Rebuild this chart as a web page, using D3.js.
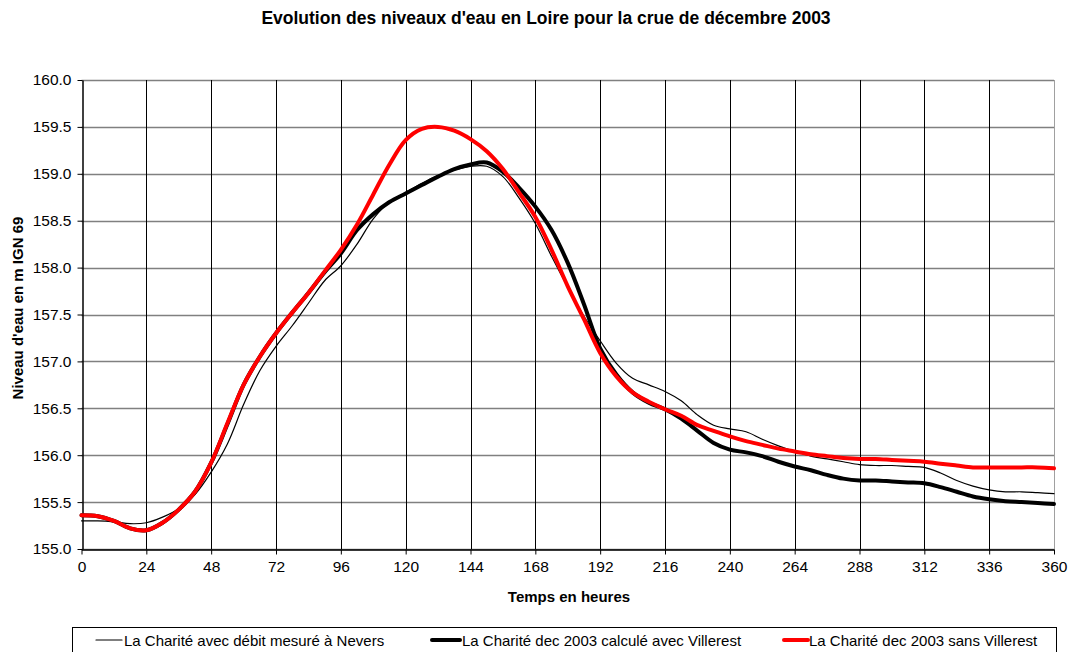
<!DOCTYPE html>
<html lang="fr">
<head>
  <meta charset="UTF-8">
  <title>Evolution des niveaux d'eau en Loire</title>
  <script src="https://d3js.org/d3.v7.min.js"></script>
  <style>
    body { margin: 0; background: #fff; }
    text { font-family: Arial, "Liberation Sans", sans-serif; }
  </style>
</head>
<body>
  <script>
    // hours, every 6 h
    const hours = d3.range(0, 361, 6);

    // La Charité avec débit mesuré à Nevers
    const mesure = [155.30, 155.30, 155.29, 155.27, 155.28, 155.34, 155.43, 155.58, 155.82, 156.12,
      156.54, 156.90, 157.16, 157.38, 157.62, 157.86, 158.02, 158.25, 158.52, 158.70,
      158.80, 158.90, 158.98, 159.04, 159.08, 159.08, 158.97, 158.74, 158.47, 158.12,
      157.79, 157.48, 157.22, 156.98, 156.82, 156.75, 156.68, 156.58, 156.43, 156.32,
      156.28, 156.25, 156.17, 156.10, 156.04, 155.99, 155.96, 155.93, 155.90, 155.89,
      155.89, 155.88, 155.87, 155.81, 155.73, 155.67, 155.63, 155.61, 155.61, 155.60,
      155.59];

    // La Charité dec 2003 calculé avec Villerest
    const avecVillerest = [155.36, 155.35, 155.30, 155.22, 155.20, 155.28, 155.42, 155.61, 155.92, 156.33,
      156.75, 157.05, 157.30, 157.52, 157.73, 157.95, 158.15, 158.40, 158.57, 158.70,
      158.79, 158.88, 158.97, 159.05, 159.10, 159.12, 159.02, 158.85, 158.65, 158.40,
      158.05, 157.61, 157.14, 156.86, 156.67, 156.56, 156.49, 156.39, 156.26, 156.13,
      156.06, 156.03, 155.99, 155.93, 155.88, 155.84, 155.79, 155.75, 155.73, 155.73,
      155.72, 155.71, 155.70, 155.66, 155.61, 155.56, 155.53, 155.51, 155.50, 155.49,
      155.48];

    // La Charité dec 2003 sans Villerest
    const sansVillerest = [155.36, 155.35, 155.30, 155.22, 155.20, 155.28, 155.42, 155.61, 155.92, 156.34,
      156.75, 157.05, 157.30, 157.52, 157.73, 157.96, 158.19, 158.46, 158.78, 159.10,
      159.36, 159.48, 159.50, 159.46, 159.37, 159.24, 159.05, 158.80, 158.54, 158.19,
      157.80, 157.45, 157.09, 156.84, 156.67, 156.57, 156.49, 156.42, 156.32, 156.26,
      156.20, 156.15, 156.11, 156.07, 156.04, 156.01, 155.99, 155.97, 155.96, 155.96,
      155.95, 155.94, 155.93, 155.91, 155.89, 155.87, 155.87, 155.87, 155.87, 155.87,
      155.86];

    const xTicks = d3.range(0, 361, 24);
    const yTicks = d3.range(155, 160.01, 0.5);

    const seriesNames = [
      "La Charité avec débit mesuré à Nevers",
      "La Charité dec 2003 calculé avec Villerest",
      "La Charité dec 2003 sans Villerest"
    ];

    const width = 1073;
    const height = 652;
    const margin = { top: 80, right: 19, bottom: 103, left: 81.5 };

    const svg = d3.select("body")
      .append("svg")
      .attr("width", width)
      .attr("height", height);

    const x = d3.scaleLinear().domain([0, 360]).range([margin.left, width - margin.right]);
    const y = d3.scaleLinear().domain([155, 160]).range([height - margin.bottom, margin.top]);

    // title
    svg.append("text")
      .attr("x", 546)
      .attr("y", 24)
      .attr("text-anchor", "middle")
      .attr("font-size", 17.5)
      .attr("font-weight", "bold")
      .text("Evolution des niveaux d'eau en Loire pour la crue de décembre 2003");

    // grid
    svg.append("g")
      .selectAll("line")
      .data(yTicks)
      .enter()
      .append("line")
      .attr("x1", x(0))
      .attr("x2", x(360))
      .attr("y1", d => Math.round(y(d)) + 0.5)
      .attr("y2", d => Math.round(y(d)) + 0.5)
      .attr("stroke", "#808080")
      .attr("stroke-width", 1.5);

    svg.append("g")
      .selectAll("line")
      .data(xTicks.slice(1))
      .enter()
      .append("line")
      .attr("x1", d => Math.round(x(d)) + 0.5)
      .attr("x2", d => Math.round(x(d)) + 0.5)
      .attr("y1", y(160))
      .attr("y2", y(155))
      .attr("stroke", d => d === 360 ? "#a0a0a0" : "#000")
      .attr("stroke-width", 1);

    // axes
    const xAxis = svg.append("g")
      .attr("transform", `translate(0,${Math.round(y(155)) + 0.5})`)
      .call(d3.axisBottom(x).tickValues(xTicks).tickSize(5).tickSizeOuter(0).tickPadding(6));
    const yAxis = svg.append("g")
      .attr("transform", `translate(${Math.round(x(0)) + 0.5},0)`)
      .call(d3.axisLeft(y).tickValues(yTicks).tickFormat(d3.format(".1f")).tickSize(5).tickSizeOuter(0).tickPadding(6));

    [xAxis, yAxis].forEach(g => {
      g.select(".domain").attr("stroke", "#000").attr("stroke-width", 1.5);
      g.selectAll(".tick line").attr("stroke", "#000");
      g.selectAll(".tick text")
        .attr("font-family", "Arial, 'Liberation Sans', sans-serif")
        .attr("font-size", 15.5)
        .attr("fill", "#000");
    });

    // axis titles
    svg.append("text")
      .attr("x", 569)
      .attr("y", 602)
      .attr("text-anchor", "middle")
      .attr("font-size", 15)
      .attr("font-weight", "bold")
      .text("Temps en heures");

    svg.append("text")
      .attr("transform", "translate(23,308) rotate(-90)")
      .attr("text-anchor", "middle")
      .attr("font-size", 15)
      .attr("font-weight", "bold")
      .text("Niveau d'eau en m IGN 69");

    // lines
    const series = [
      { values: mesure, color: "#000", w: 1.2 },
      { values: avecVillerest, color: "#000", w: 4 },
      { values: sansVillerest, color: "#ff0000", w: 4 }
    ];

    const line = d3.line()
      .x((d, i) => x(hours[i]))
      .y(d => y(d))
      .curve(d3.curveCatmullRom.alpha(0.5));

    svg.append("g")
      .selectAll("path")
      .data(series)
      .enter()
      .append("path")
      .attr("d", d => line(d.values))
      .attr("fill", "none")
      .attr("stroke", d => d.color)
      .attr("stroke-width", d => d.w)
      .attr("stroke-linejoin", "round")
      .attr("stroke-linecap", "round");

    // legend
    svg.append("rect")
      .attr("x", 72.5)
      .attr("y", 627.5)
      .attr("width", 984)
      .attr("height", 40)
      .attr("fill", "#fff")
      .attr("stroke", "#000")
      .attr("stroke-width", 1);

    const legendPos = [
      { x1: 96, x2: 122, tx: 124 },
      { x1: 432, x2: 460, tx: 462 },
      { x1: 784, x2: 808, tx: 809 }
    ];

    const leg = svg.append("g")
      .selectAll("g")
      .data(series)
      .enter()
      .append("g");

    leg.append("line")
      .attr("x1", (d, i) => legendPos[i].x1)
      .attr("x2", (d, i) => legendPos[i].x2)
      .attr("y1", 640)
      .attr("y2", 640)
      .attr("stroke", d => d.color)
      .attr("stroke-width", d => d.w)
      .attr("stroke-linecap", "round");

    leg.append("text")
      .attr("x", (d, i) => legendPos[i].tx)
      .attr("y", 645.5)
      .attr("font-size", 15)
      .text((d, i) => seriesNames[i]);
  </script>
</body>
</html>
